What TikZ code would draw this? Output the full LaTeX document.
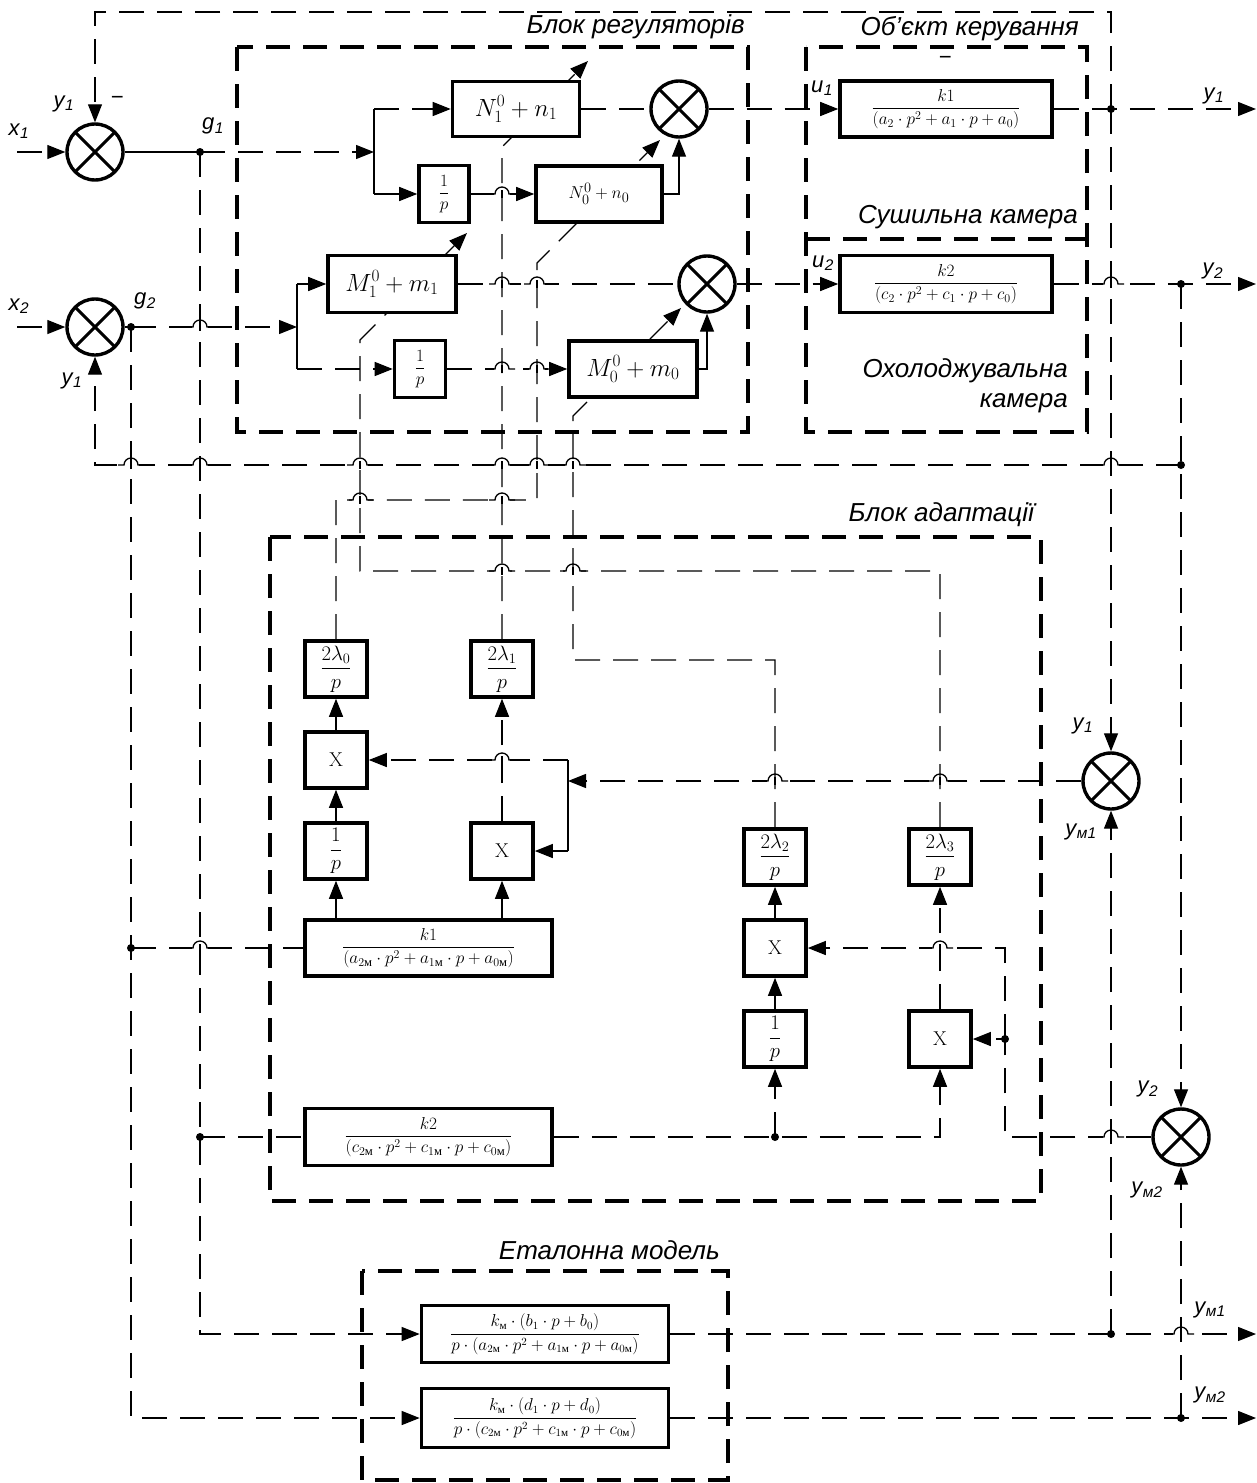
\documentclass[tikz,border=0pt]{standalone}
\usepackage{amsmath}
\usepackage{fontspec}
\usetikzlibrary{arrows.meta,backgrounds}
\newfontfamily\gost{Liberation Sans}
\newfontfamily\cyrm{Liberation Serif}
\newcommand\Mm{\text{\cyrm м}}
\newcommand\sbs[2]{#1\kern0.5pt\textsubscript{#2}}
\newcommand\hump[2]{%
  \fill[white] ({#1-8},{#2-2.5}) rectangle ({#1+8},{#2+2.5});
  \draw[sw] ({#1-13},#2) -- ({#1-7},#2) arc[start angle=180,end angle=360,radius=7] -- ({#1+13},#2);
  \draw[sw] (#1,{#2-4}) -- (#1,{#2+4});}
\tikzset{
  wire/.style={line width=1.3pt, dash pattern=on 25pt off 13pt},
  sw/.style={line width=1.3pt},
  arr/.style={-{Triangle[length=18pt,width=14pt]}},
  blk/.style={draw, line width=3.6pt, fill=white, inner sep=0pt, align=center},
  ablk/.style={blk, minimum width=62pt, minimum height=56pt},
  bnd/.style={line width=4pt, dash pattern=on 24pt off 13pt},
  sumj/.style={circle, draw, line width=3.4pt, minimum size=56pt, inner sep=0pt, fill=white,
    path picture={\draw[line width=3pt] (path picture bounding box.north west)--(path picture bounding box.south east)
      (path picture bounding box.north east)--(path picture bounding box.south west);}},
  jdot/.style={circle, fill, inner sep=0pt, minimum size=8pt},
  lbl/.style={font={\gost\itshape\fontsize{22}{24}\selectfont}, inner sep=0pt},
  ttl/.style={font={\gost\itshape\fontsize{26}{30}\selectfont}, inner sep=0pt, anchor=east, align=right},
}
\begin{document}
\begin{tikzpicture}[x=1pt,y=-1pt]
\useasboundingbox (0,0) rectangle (1256,1483);
% boundaries
\draw[bnd] (237,47) rectangle (748,432);
\draw[bnd] (806,47) rectangle (1087,432);
\draw[bnd] (806,239) -- (1087,239);
\draw[bnd] (270,537) rectangle (1041,1201);
\draw[bnd] (362,1271) rectangle (728,1480);
% titles
\node[ttl] (t1) at (745,27) {Блок регуляторів};
\node[ttl] (t2) at (1079,29) {Об’єкт керування};
\node[ttl] (t3) at (1078,217) {Сушильна камера};
\node[ttl] (t4) at (1068,386) {Охолоджувальна\\камера};
\node[ttl] (t5) at (1034,515) {Блок адаптації};
\node[ttl] (t6) at (720,1250) {Еталонна модель};
% sums
\node[sumj] (S1) at (95,152) {};
\node[sumj] (S2) at (95,327) {};
\node[sumj] (R1) at (679,109) {};
\node[sumj] (R2) at (707,284) {};
\node[sumj] (Y1) at (1111,781) {};
\node[sumj] (Y2) at (1181,1137) {};
% regulator blocks
\node[blk,minimum width=127pt,minimum height=55pt,font=\fontsize{25}{28}\selectfont] (N1) at (516,109) {$N_1^0+n_1$};
\node[blk,minimum width=50pt,minimum height=57pt,font=\fontsize{18}{21}\selectfont] (P1) at (444,194) {$\dfrac{1}{p}$};
\node[blk,minimum width=126pt,minimum height=56pt,font=\fontsize{19}{22}\selectfont] (N0) at (599,194) {$N_0^0+n_0$};
\node[blk,minimum width=128pt,minimum height=57pt,font=\fontsize{23}{26}\selectfont] (M1) at (392,284) {$M_1^0+m_1$};
\node[blk,minimum width=51pt,minimum height=57pt,font=\fontsize{18}{21}\selectfont] (P2) at (420,369) {$\dfrac{1}{p}$};
\node[blk,minimum width=128pt,minimum height=56pt,font=\fontsize{25}{28}\selectfont] (M0) at (633,369) {$M_0^0+m_0$};
% plant
\node[blk,minimum width=212pt,minimum height=56pt,font=\fontsize{17}{20}\selectfont] (PL1) at (946,109) {$\dfrac{k1}{(a_2\cdot p^2+a_1\cdot p+a_0)}$};
\node[blk,minimum width=212pt,minimum height=57pt,font=\fontsize{17}{20}\selectfont] (PL2) at (946,284) {$\dfrac{k2}{(c_2\cdot p^2+c_1\cdot p+c_0)}$};
% adaptation
\node[ablk,font=\fontsize{21}{24}\selectfont] (L0) at (336,669) {$\dfrac{2\lambda_0}{p}$};
\node[ablk,font=\fontsize{21}{24}\selectfont] (L1) at (502,669) {$\dfrac{2\lambda_1}{p}$};
\node[ablk,font=\fontsize{20}{23}\selectfont] (XA) at (336,760) {X};
\node[ablk,font=\fontsize{21}{24}\selectfont] (PA) at (336,851) {$\dfrac{1}{p}$};
\node[ablk,font=\fontsize{20}{23}\selectfont] (XB) at (502,851) {X};
\node[blk,minimum width=247pt,minimum height=56pt,font=\fontsize{18}{21}\selectfont] (K1) at (428.5,948) {$\dfrac{k1}{(a_{2\Mm}\cdot p^2+a_{1\Mm}\cdot p+a_{0\Mm})}$};
\node[ablk,font=\fontsize{21}{24}\selectfont] (L2) at (775,857) {$\dfrac{2\lambda_2}{p}$};
\node[ablk,font=\fontsize{21}{24}\selectfont] (L3) at (940,857) {$\dfrac{2\lambda_3}{p}$};
\node[ablk,font=\fontsize{20}{23}\selectfont] (XC) at (775,948) {X};
\node[ablk,font=\fontsize{21}{24}\selectfont] (PC) at (775,1039) {$\dfrac{1}{p}$};
\node[ablk,font=\fontsize{20}{23}\selectfont] (XD) at (940,1039) {X};
\node[blk,minimum width=247pt,minimum height=57pt,font=\fontsize{18}{21}\selectfont] (K2) at (428.5,1137) {$\dfrac{k2}{(c_{2\Mm}\cdot p^2+c_{1\Mm}\cdot p+c_{0\Mm})}$};
% model
\node[blk,minimum width=247pt,minimum height=57pt,font=\fontsize{16}{19}\selectfont] (E1) at (545,1334) {$\dfrac{k_{\Mm}\cdot(b_1\cdot p+b_0)}{p\cdot(a_{2\Mm}\cdot p^2+a_{1\Mm}\cdot p+a_{0\Mm})}$};
\node[blk,minimum width=247pt,minimum height=59pt,font=\fontsize{16}{19}\selectfont] (E2) at (545,1418) {$\dfrac{k_{\Mm}\cdot(d_1\cdot p+d_0)}{p\cdot(c_{2\Mm}\cdot p^2+c_{1\Mm}\cdot p+c_{0\Mm})}$};
% coordinates
\coordinate (T0) at (95,12);
\coordinate (T1) at (1111,12);
\coordinate (D1) at (1111,109);
\coordinate (X1in) at (17,152);
\coordinate (G1) at (200,152);
\coordinate (SP1) at (374,152);
\coordinate (SP1u) at (374,109);
\coordinate (SP1d) at (374,194);
\coordinate (X2in) at (17,327);
\coordinate (G2) at (131,327);
\coordinate (SP2) at (297,327);
\coordinate (SP2u) at (297,284);
\coordinate (SP2d) at (297,369);
\coordinate (O1) at (1256,109);
\coordinate (D2) at (1181,284);
\coordinate (O2) at (1256,284);
\coordinate (D3) at (1181,465);
\coordinate (C465) at (95,465);
\coordinate (D4) at (131,948);
\coordinate (D5) at (200,1137);
\coordinate (C1334) at (200,1334);
\coordinate (C1418) at (131,1418);
\coordinate (D6) at (1111,1334);
\coordinate (D7) at (1181,1418);
\coordinate (O3) at (1256,1334);
\coordinate (O4) at (1256,1418);
\coordinate (A1) at (568,781);
\coordinate (A1u) at (568,760);
\coordinate (A1d) at (568,851);
\coordinate (C500a) at (336,500);
\coordinate (C500b) at (537,500);
\coordinate (C263) at (537,263);
\coordinate (TN0) at (660,140);
\coordinate (C147) at (502,147);
\coordinate (TN1) at (588,61);
\coordinate (C660a) at (775,660);
\coordinate (C660b) at (573,660);
\coordinate (C416) at (573,416);
\coordinate (TM0) at (681,308);
\coordinate (C571a) at (940,571);
\coordinate (C571b) at (360,571);
\coordinate (C340) at (360,340);
\coordinate (TM1) at (467,233);
\coordinate (D8) at (775,1137);
\coordinate (C1137) at (940,1137);
\coordinate (C1005) at (1005,1137);
\coordinate (D9) at (1005,1039);
\coordinate (C948) at (1005,948);
% wires
\begin{scope}[on background layer]
\draw[wire,arr] (D1) -- (T1) -- (T0) -- (S1.north);
\draw[wire,arr] (D1) -- (Y1.north);
\draw[wire,arr] (X1in) -- (S1.west);
\draw[sw] (S1.east) -- (G1);
\draw[wire,arr] (G1) -- (SP1);
\draw[sw] (SP1u) -- (SP1d);
\draw[wire,arr] (SP1u) -- (N1.west);
\draw[sw,arr] (SP1d) -- (P1.west);
\draw[wire,arr] (P1.east) -- (N0.west);
\draw[wire] (N1.east) -- (R1.west);
\draw[sw,arr] (N0.east) -| (R1.south);
\draw[wire,arr] (R1.east) -- (PL1.west);
\draw[wire,arr] (PL1.east) -- (O1);
\draw[wire,arr] (X2in) -- (S2.west);
\draw[sw] (S2.east) -- (G2);
\draw[wire,arr] (G2) -- (SP2);
\draw[sw] (SP2u) -- (SP2d);
\draw[sw,arr] (SP2u) -- (M1.west);
\draw[wire,arr] (SP2d) -- (P2.west);
\draw[wire,arr] (P2.east) -- (M0.west);
\draw[wire] (M1.east) -- (R2.west);
\draw[sw,arr] (M0.east) -| (R2.south);
\draw[wire,arr] (R2.east) -- (PL2.west);
\draw[wire,arr] (PL2.east) -- (O2);
\draw[wire,arr] (D2) -- (Y2.north);
\draw[wire,arr] (D3) -- (C465) -- (S2.south);
\draw[wire,arr] (G1) -- (C1334) -- (E1.west);
\draw[wire] (D5) -- (K2.west);
\draw[wire,arr] (G2) -- (C1418) -- (E2.west);
\draw[wire] (D4) -- (K1.west);
\draw[wire,arr] (E1.east) -- (O3);
\draw[wire,arr] (E2.east) -- (O4);
\draw[wire,arr] (D6) -- (Y1.south);
\draw[wire,arr] (D7) -- (Y2.south);
\draw[wire,arr] (Y1.west) -- (A1);
\draw[sw] (A1u) -- (A1d);
\draw[wire,arr] (A1u) -- (XA.east);
\draw[sw,arr] (A1d) -- (XB.east);
\draw[sw,arr] (PA |- K1.north) -- (PA.south);
\draw[sw,arr] (XB |- K1.north) -- (XB.south);
\draw[sw,arr] (PA.north) -- (XA.south);
\draw[sw,arr] (XA.north) -- (L0.south);
\draw[wire,arr] (XB.north) -- (L1.south);
\draw[wire,arr] (L0.north) -- (C500a) -- (C500b) -- (C263) -- (TN0);
\draw[wire,arr] (L1.north) -- (C147) -- (TN1);
\draw[wire,arr] (L2.north) -- (C660a) -- (C660b) -- (C416) -- (TM0);
\draw[wire,arr] (L3.north) -- (C571a) -- (C571b) -- (C340) -- (TM1);
\draw[wire,arr] (K2.east) -- (C1137) -- (XD.south);
\draw[wire,arr] (D8) -- (PC.south);
\draw[sw,arr] (PC.north) -- (XC.south);
\draw[sw,arr] (XC.north) -- (L2.south);
\draw[wire,arr] (XD.north) -- (L3.south);
\draw[wire,arr] (Y2.west) -- (C1005) -- (D9) -- (XD.east);
\draw[wire,arr] (D9) -- (C948) -- (XC.east);
\end{scope}
% humps
\hump{200}{327}
\hump{502}{194}
\hump{502}{284}\hump{537}{284}
\hump{502}{369}\hump{537}{369}
\hump{1111}{284}
\hump{131}{465}\hump{200}{465}\hump{360}{465}\hump{502}{465}\hump{537}{465}\hump{573}{465}\hump{1111}{465}
\hump{360}{500}\hump{502}{500}
\hump{502}{571}\hump{573}{571}
\hump{502}{760}
\hump{775}{781}\hump{940}{781}
\hump{200}{948}\hump{940}{948}
\hump{1111}{1137}
\hump{1181}{1334}
% dots
\foreach \p in {G1,G2,D1,D2,D3,D4,D5,D6,D7,D8,D9} \node[jdot] at (\p) {};
% labels
\node[lbl] (lx1) at (19,131) {\sbs{x}{1}};
\node[lbl] (lx2) at (19,306) {\sbs{x}{2}};
\node[lbl] (ly1a) at (64,104) {\sbs{y}{1}};
\node[lbl] (lm1) at (117,100) {−};
\node[lbl] (lg1) at (213,126) {\sbs{g}{1}};
\node[lbl] (lg2) at (145,301) {\sbs{g}{2}};
\node[lbl] (ly1b) at (72,381) {\sbs{y}{1}};
\node[lbl] (lu1) at (822,88) {\sbs{u}{1}};
\node[lbl] (lu2) at (823,263) {\sbs{u}{2}};
\node[lbl] (lm2) at (945,60) {−};
\node[lbl] (ly1o) at (1214,96) {\sbs{y}{1}};
\node[lbl] (ly2o) at (1213,271) {\sbs{y}{2}};
\node[lbl] (ly1c) at (1083,726) {\sbs{y}{1}};
\node[lbl] (lym1c) at (1081,832) {\sbs{y}{м1}};
\node[lbl] (ly2c) at (1148,1089) {\sbs{y}{2}};
\node[lbl] (lym2c) at (1147,1190) {\sbs{y}{м2}};
\node[lbl] (lym1o) at (1210,1310) {\sbs{y}{м1}};
\node[lbl] (lym2o) at (1210,1395) {\sbs{y}{м2}};
\end{tikzpicture}
\end{document}
